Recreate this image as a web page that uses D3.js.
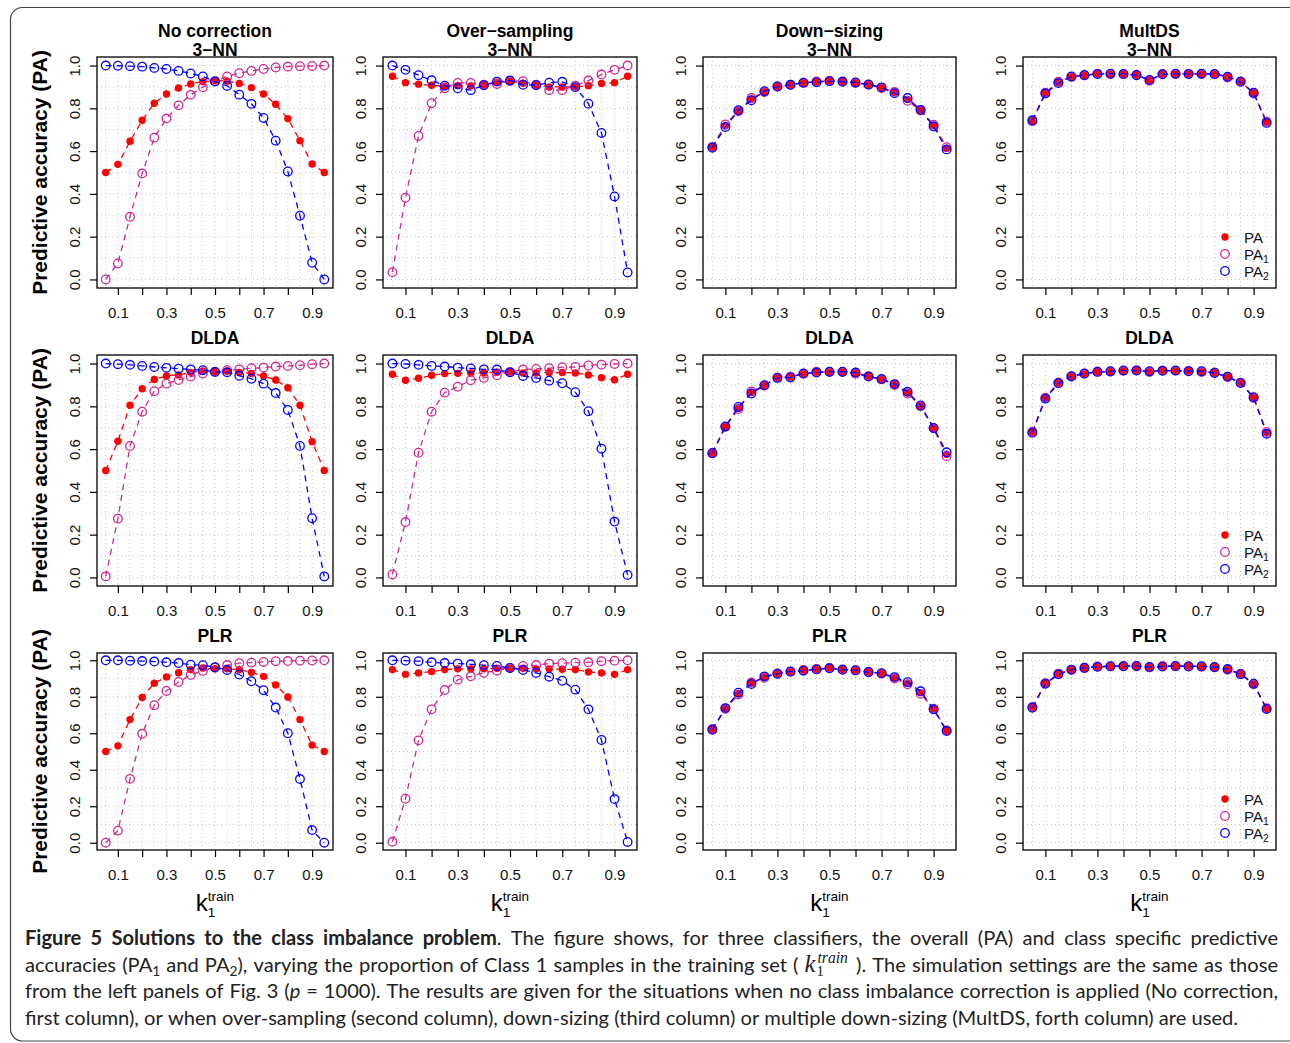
<!DOCTYPE html>
<html><head><meta charset="utf-8">
<script src="https://cdn.jsdelivr.net/npm/d3@7"></script>
<style>body{margin:0;background:#fff} svg{display:block}</style>
</head><body>
<svg id="c" width="1290" height="1043"></svg>
<script>
// ---------------- data ----------------
const kTrain = [0.05,0.10,0.15,0.20,0.25,0.30,0.35,0.40,0.45,0.50,0.55,0.60,0.65,0.70,0.75,0.80,0.85,0.90,0.95];
const columnTitles = ["No correction","Over\u2212sampling","Down\u2212sizing","MultDS"];
const rowTitles = ["3\u2212NN","DLDA","PLR"];
const xTickValues = [0.1,0.2,0.3,0.4,0.5,0.6,0.7,0.8,0.9];
const xTickLabels = ["0.1","","0.3","","0.5","","0.7","","0.9"];
const yTickValues = [0,0.2,0.4,0.6,0.8,1.0];
const yTickLabels = ["0.0","0.2","0.4","0.6","0.8","1.0"];
const yGridValues = [0,0.1,0.2,0.3,0.4,0.5,0.6,0.7,0.8,0.9,1.0];
const seriesNames = ["PA","PA1","PA2"];

// No correction / 3-NN
const ncKnnPA  = [0.500,0.538,0.646,0.744,0.824,0.867,0.895,0.914,0.925,0.930,0.927,0.916,0.897,0.867,0.819,0.752,0.649,0.540,0.500];
const ncKnnPA1 = [0.000,0.075,0.293,0.495,0.663,0.752,0.814,0.863,0.899,0.928,0.949,0.964,0.975,0.984,0.991,0.995,0.997,0.998,1.000];
const ncKnnPA2 = [1.000,0.999,0.997,0.995,0.989,0.984,0.975,0.963,0.949,0.925,0.905,0.864,0.821,0.755,0.649,0.505,0.298,0.078,0.000];
// Over-sampling / 3-NN
const osKnnPA  = [0.950,0.920,0.913,0.908,0.903,0.906,0.905,0.908,0.922,0.928,0.917,0.908,0.900,0.900,0.900,0.906,0.916,0.920,0.950];
const osKnnPA1 = [0.034,0.382,0.671,0.824,0.894,0.919,0.919,0.910,0.914,0.928,0.927,0.910,0.885,0.885,0.906,0.930,0.958,0.980,1.000];
const osKnnPA2 = [1.000,0.980,0.955,0.931,0.906,0.894,0.885,0.908,0.925,0.930,0.910,0.908,0.920,0.924,0.899,0.822,0.685,0.388,0.033];
// Down-sizing / 3-NN
const dsKnnPA  = [0.618,0.718,0.789,0.842,0.878,0.902,0.910,0.920,0.924,0.928,0.925,0.920,0.911,0.897,0.874,0.842,0.792,0.719,0.613];
const dsKnnPA1 = [0.620,0.725,0.786,0.848,0.876,0.902,0.910,0.919,0.926,0.929,0.926,0.919,0.910,0.895,0.877,0.835,0.790,0.723,0.618];
const dsKnnPA2 = [0.616,0.713,0.791,0.838,0.880,0.902,0.910,0.920,0.922,0.927,0.924,0.921,0.912,0.898,0.871,0.848,0.793,0.715,0.608];
// MultDS / 3-NN
const mdKnnPA  = [0.742,0.871,0.921,0.948,0.955,0.961,0.961,0.960,0.956,0.931,0.960,0.961,0.961,0.961,0.960,0.946,0.925,0.871,0.735];
const mdKnnPA1 = [0.740,0.873,0.924,0.947,0.954,0.962,0.960,0.959,0.957,0.929,0.961,0.960,0.962,0.960,0.959,0.944,0.926,0.869,0.738];
const mdKnnPA2 = [0.744,0.869,0.918,0.949,0.956,0.960,0.962,0.961,0.955,0.933,0.959,0.962,0.960,0.962,0.961,0.948,0.924,0.873,0.732];
// No correction / DLDA
const ncDldaPA  = [0.500,0.637,0.805,0.882,0.926,0.942,0.947,0.959,0.965,0.962,0.965,0.959,0.954,0.942,0.923,0.887,0.805,0.635,0.500];
const ncDldaPA1 = [0.005,0.275,0.615,0.775,0.871,0.906,0.923,0.939,0.953,0.962,0.969,0.973,0.978,0.981,0.986,0.989,0.992,0.997,1.000];
const ncDldaPA2 = [1.000,0.997,0.994,0.989,0.984,0.980,0.976,0.972,0.969,0.961,0.959,0.943,0.929,0.906,0.862,0.783,0.615,0.277,0.005];
// Over-sampling / DLDA
const osDldaPA  = [0.950,0.922,0.931,0.945,0.953,0.955,0.956,0.956,0.961,0.961,0.956,0.956,0.958,0.958,0.956,0.947,0.934,0.924,0.950];
const osDldaPA1 = [0.014,0.259,0.583,0.775,0.864,0.892,0.922,0.933,0.945,0.961,0.972,0.975,0.978,0.983,0.984,0.991,0.995,0.998,1.000];
const osDldaPA2 = [1.000,0.998,0.994,0.989,0.986,0.981,0.977,0.973,0.972,0.959,0.942,0.933,0.920,0.908,0.866,0.777,0.602,0.261,0.012];
// Down-sizing / DLDA
const dsDldaPA  = [0.581,0.705,0.792,0.865,0.898,0.934,0.937,0.953,0.960,0.961,0.961,0.955,0.940,0.927,0.902,0.864,0.802,0.698,0.576];
const dsDldaPA1 = [0.580,0.704,0.787,0.870,0.897,0.935,0.939,0.952,0.962,0.960,0.960,0.952,0.941,0.926,0.900,0.860,0.800,0.697,0.567];
const dsDldaPA2 = [0.582,0.706,0.797,0.860,0.899,0.933,0.935,0.954,0.958,0.962,0.962,0.958,0.939,0.928,0.904,0.868,0.804,0.699,0.585];
// MultDS / DLDA
const mdDldaPA  = [0.679,0.838,0.910,0.940,0.953,0.962,0.963,0.967,0.968,0.962,0.967,0.967,0.965,0.962,0.957,0.938,0.910,0.841,0.676];
const mdDldaPA1 = [0.681,0.840,0.912,0.939,0.952,0.963,0.962,0.966,0.969,0.960,0.968,0.966,0.966,0.960,0.958,0.937,0.911,0.839,0.680];
const mdDldaPA2 = [0.677,0.836,0.908,0.941,0.954,0.961,0.964,0.968,0.967,0.964,0.966,0.968,0.964,0.964,0.956,0.939,0.909,0.843,0.672];
// No correction / PLR
const ncPlrPA  = [0.500,0.531,0.675,0.796,0.874,0.909,0.932,0.949,0.958,0.954,0.954,0.949,0.934,0.912,0.865,0.799,0.675,0.535,0.500];
const ncPlrPA1 = [0.000,0.066,0.350,0.597,0.754,0.832,0.881,0.920,0.942,0.960,0.974,0.984,0.987,0.991,0.995,0.996,0.998,0.999,1.000];
const ncPlrPA2 = [1.000,1.000,0.998,0.996,0.993,0.989,0.985,0.976,0.973,0.962,0.947,0.922,0.885,0.836,0.741,0.600,0.349,0.069,0.000];
// Over-sampling / PLR
const osPlrPA  = [0.949,0.923,0.931,0.938,0.949,0.953,0.953,0.953,0.956,0.956,0.956,0.953,0.953,0.951,0.949,0.936,0.931,0.923,0.949];
const osPlrPA1 = [0.005,0.241,0.561,0.731,0.837,0.894,0.912,0.932,0.943,0.958,0.969,0.974,0.982,0.984,0.987,0.989,0.995,0.998,1.000];
const osPlrPA2 = [1.000,0.998,0.995,0.989,0.985,0.982,0.978,0.973,0.969,0.958,0.947,0.931,0.910,0.888,0.839,0.731,0.563,0.239,0.004];
// Down-sizing / PLR
const dsPlrPA  = [0.621,0.736,0.817,0.874,0.908,0.927,0.938,0.945,0.951,0.957,0.949,0.945,0.936,0.928,0.904,0.874,0.823,0.733,0.614];
const dsPlrPA1 = [0.623,0.734,0.812,0.878,0.904,0.928,0.937,0.947,0.952,0.958,0.950,0.944,0.937,0.927,0.900,0.868,0.816,0.735,0.616];
const dsPlrPA2 = [0.619,0.738,0.822,0.870,0.912,0.926,0.939,0.943,0.950,0.956,0.948,0.946,0.935,0.929,0.908,0.880,0.830,0.731,0.612];
// MultDS / PLR
const mdPlrPA  = [0.742,0.873,0.925,0.948,0.958,0.965,0.967,0.968,0.968,0.962,0.967,0.968,0.967,0.966,0.962,0.950,0.925,0.870,0.735];
const mdPlrPA1 = [0.744,0.875,0.927,0.947,0.957,0.966,0.966,0.969,0.967,0.961,0.968,0.967,0.968,0.965,0.961,0.948,0.926,0.868,0.737];
const mdPlrPA2 = [0.740,0.871,0.923,0.949,0.959,0.964,0.968,0.967,0.969,0.963,0.966,0.969,0.966,0.967,0.963,0.952,0.924,0.872,0.733];

const panelData = [
  [[ncKnnPA,ncKnnPA1,ncKnnPA2],[osKnnPA,osKnnPA1,osKnnPA2],[dsKnnPA,dsKnnPA1,dsKnnPA2],[mdKnnPA,mdKnnPA1,mdKnnPA2]],
  [[ncDldaPA,ncDldaPA1,ncDldaPA2],[osDldaPA,osDldaPA1,osDldaPA2],[dsDldaPA,dsDldaPA1,dsDldaPA2],[mdDldaPA,mdDldaPA1,mdDldaPA2]],
  [[ncPlrPA,ncPlrPA1,ncPlrPA2],[osPlrPA,osPlrPA1,osPlrPA2],[dsPlrPA,dsPlrPA1,dsPlrPA2],[mdPlrPA,mdPlrPA1,mdPlrPA2]]
];

// ---------------- layout & style ----------------
const colBoxes = [[97,333],[383,637],[703,956],[1023,1276]];
const rowBoxes = [[57,288],[355,586],[653,850]];
const seriesColors = ["#ff0000","#cd2990","#0000ff"];
const SANS = "'Liberation Sans', Arial, sans-serif";

const svg = d3.select("#c");
svg.append("rect").attr("width",1290).attr("height",1043).attr("fill","#fff");
svg.append("path")
  .attr("d","M1300,7.5 H22 A12,12 0 0 0 10.5,19.5 V1029 A12,12 0 0 0 22.5,1041 H1300")
  .attr("fill","none").attr("stroke","#444").attr("stroke-width",1.2);

panelData.forEach((rowArr, r) => {
  rowArr.forEach((series, c) => {
    const [x0,x1] = colBoxes[c], [y0,y1] = rowBoxes[r];
    const x = d3.scaleLinear().domain([0.014,0.986]).range([x0,x1]);
    const y = d3.scaleLinear().domain([-0.04,1.04]).range([y1,y0]);
    const g = svg.append("g");

    // grid
    g.selectAll(".vg").data(kTrain).join("line")
      .attr("x1",d=>x(d)).attr("x2",d=>x(d)).attr("y1",y0).attr("y2",y1)
      .attr("stroke","#c4c4c4").attr("stroke-width",1).attr("stroke-dasharray","1,3");
    g.selectAll(".hg").data(yGridValues).join("line")
      .attr("x1",x0).attr("x2",x1).attr("y1",d=>y(d)).attr("y2",d=>y(d))
      .attr("stroke","#c4c4c4").attr("stroke-width",1).attr("stroke-dasharray","1,3");

    // series
    const line = d3.line().x(d=>x(d[0])).y(d=>y(d[1]));
    series.forEach((vals, s) => {
      const pts = kTrain.map((k,i)=>[k, vals[i]]);
      g.append("path").attr("d", line(pts)).attr("fill","none")
        .attr("stroke", seriesColors[s]).attr("stroke-width",1.3).attr("stroke-dasharray","6,5");
      g.selectAll(null).data(pts).join("circle")
        .attr("cx",d=>x(d[0])).attr("cy",d=>y(d[1]))
        .attr("r", s===0 ? 3.7 : 4.3)
        .attr("fill", s===0 ? seriesColors[0] : "none")
        .attr("stroke", s===0 ? "none" : seriesColors[s])
        .attr("stroke-width", 1.3);
    });

    // box
    g.append("rect").attr("x",x0).attr("y",y0).attr("width",x1-x0).attr("height",y1-y0)
      .attr("fill","none").attr("stroke","#000").attr("stroke-width",1.3);

    // axes
    g.append("g").attr("transform",`translate(0,${y1})`)
      .call(d3.axisBottom(x).tickValues(xTickValues).tickSize(7).tickFormat((d,i)=>xTickLabels[i]))
      .attr("font-family",SANS).attr("font-size",15)
      .call(a=>{a.select(".domain").remove(); a.selectAll("line").attr("stroke-width",1.2);
        a.selectAll("text").attr("y",30).attr("dy",null).attr("fill","#111");});
    g.append("g").attr("transform",`translate(${x0},0)`)
      .call(d3.axisLeft(y).tickValues(yTickValues).tickSize(7).tickFormat((d,i)=>yTickLabels[i]))
      .attr("font-family",SANS).attr("font-size",15)
      .call(a=>{a.select(".domain").remove(); a.selectAll("line").attr("stroke-width",1.2);
        a.selectAll("text").attr("x",null).attr("dy",null).attr("text-anchor","middle")
          .attr("transform","translate(-17,0) rotate(-90)").attr("fill","#111");});

    // titles
    const cx = (x0+x1)/2;
    if (r === 0) {
      g.append("text").attr("x",cx).attr("y",37).attr("text-anchor","middle")
        .attr("font-family",SANS).attr("font-weight","bold").attr("font-size",17.5).text(columnTitles[c]);
      g.append("text").attr("x",cx).attr("y",56).attr("text-anchor","middle")
        .attr("font-family",SANS).attr("font-weight","bold").attr("font-size",17.5).text(rowTitles[r]);
    } else {
      g.append("text").attr("x",cx).attr("y",y0-11).attr("text-anchor","middle")
        .attr("font-family",SANS).attr("font-weight","bold").attr("font-size",17.5).text(rowTitles[r]);
    }

    // y label
    if (c === 0) {
      g.append("text").attr("transform",`translate(47,${(y0+y1)/2}) rotate(-90)`)
        .attr("text-anchor","middle").attr("font-family",SANS).attr("font-weight","bold")
        .attr("font-size",21).text("Predictive accuracy (PA)");
    }
    // x label
    if (r === 2) {
      const xl = g.append("g").attr("font-family",SANS);
      const kt = xl.append("text").attr("x",0).attr("y",0).attr("font-size",24).text("k");
      const kw = kt.node().getComputedTextLength();
      const tr = xl.append("text").attr("x",kw).attr("y",-10).attr("font-size",13.5).text("train");
      xl.append("text").attr("x",kw).attr("y",6).attr("font-size",13.5).text("1");
      const tw = kw + tr.node().getComputedTextLength();
      xl.attr("transform",`translate(${cx - tw/2},911)`);
    }

    // legend
    if (c === 3) {
      const lg = g.append("g");
      seriesNames.forEach((nm, s) => {
        const ly = y1 - 51 + s*17;
        lg.append("circle").attr("cx",x1-51).attr("cy",ly)
          .attr("r", s===0 ? 3.7 : 4.3)
          .attr("fill", s===0 ? seriesColors[0] : "none")
          .attr("stroke", s===0 ? "none" : seriesColors[s]).attr("stroke-width",1.3);
        const t = lg.append("text").attr("x",x1-32).attr("y",ly+5.5)
          .attr("font-family",SANS).attr("font-size",15).attr("fill","#111");
        t.append("tspan").text("PA");
        if (s>0) t.append("tspan").attr("font-size",10.5).attr("dy",3).text(String(s));
      });
    }
  });
});

// ---------------- caption ----------------
const captionLines = [
  [{t:"Figure 5 Solutions to the class imbalance problem", b:1},{t:". The figure shows, for three classifiers, the overall (PA) and class specific predictive"}],
  [{t:"accuracies (PA"},{t:"1",sub:1},{t:" and PA"},{t:"2",sub:1},{t:"), varying the proportion of Class 1 samples in the training set ( "},{kterm:1},{t:" ). The simulation settings are the same as those"}],
  [{t:"from the left panels of Fig. 3 ("},{t:"p",i:1},{t:" = 1000). The results are given for the situations when no class imbalance correction is applied (No correction,"}],
  [{t:"first column), or when over-sampling (second column), down-sizing (third column) or multiple down-sizing (MultDS, forth column) are used."}]
];
const capBaselines = [945, 972, 998, 1025];
const capRight = [1278, 1278, 1278, 1238];
const capLeft = 25;
const CAPFONT = "Lato, 'Open Sans', sans-serif";
const SERIF = "'Liberation Serif', serif";

function layoutCaption(size, place) {
  const root = svg.append("g").attr("font-family",CAPFONT).attr("font-size",size).attr("fill","#222");
  const sp1 = root.append("text").text("n n"), sp2 = root.append("text").text("nn");
  const spaceW = sp1.node().getComputedTextLength() - sp2.node().getComputedTextLength();
  sp1.remove(); sp2.remove();
  const naturals = [];
  captionLines.forEach((runs, li) => {
    const tokens = []; let cur = [];
    runs.forEach(run => {
      if (run.kterm) { cur.push(run); return; }
      const parts = run.t.split(" ");
      parts.forEach((p, pi) => {
        if (pi > 0) { tokens.push(cur); cur = []; }
        if (p.length) cur.push(Object.assign({}, run, {t:p}));
      });
    });
    tokens.push(cur);
    const toks = tokens.filter(t => t.length);
    const lineG = root.append("g");
    const widths = [], groups = [];
    toks.forEach(tok => {
      const tg = lineG.append("g"); let cx = 0;
      tok.forEach(run => {
        if (run.kterm) {
          // measure parts, then draw k with stacked sub/superscript as one text
          const m1 = tg.append("text").attr("font-family",SERIF).attr("font-style","italic").attr("font-size",size*1.22).text("k");
          const kw = m1.node().getComputedTextLength(); m1.remove();
          const m2 = tg.append("text").attr("font-family",SERIF).attr("font-style","italic").attr("font-size",size*0.78).text("train");
          const tw = m2.node().getComputedTextLength(); m2.remove();
          const kt = tg.append("text").attr("font-family",SERIF);
          kt.append("tspan").attr("x",cx).attr("y",0).attr("font-style","italic").attr("font-size",size*1.22).text("k");
          kt.append("tspan").attr("x",cx+kw+1).attr("y",size*0.2).attr("font-size",size*0.74).text("1");
          kt.append("tspan").attr("x",cx+kw+2).attr("y",-size*0.44).attr("font-style","italic").attr("font-size",size*0.78).text("train");
          cx += kw + 4 + tw;
        } else {
          const t = tg.append("text").attr("x",cx).attr("y", run.sub ? size*0.22 : 0).text(run.t);
          if (run.b) t.attr("font-weight","bold");
          if (run.i) t.attr("font-style","italic");
          if (run.sub) t.attr("font-size",size*0.68);
          cx += t.node().getComputedTextLength();
        }
      });
      widths.push(cx); groups.push(tg);
    });
    const total = d3.sum(widths);
    naturals.push(total + spaceW*(toks.length-1));
    const gap = (capRight[li] - capLeft - total) / (toks.length - 1);
    let xx = capLeft;
    groups.forEach((tg, i) => { tg.attr("transform",`translate(${xx},${capBaselines[li]})`); xx += widths[i] + gap; });
  });
  if (!place) root.remove();
  return naturals;
}
const baseSize = 18.5;
const nat = layoutCaption(baseSize, false);
// size the font so the un-justified last line spans its reference width
const capSize = baseSize * (capRight[3]-capLeft) / nat[3];
layoutCaption(capSize, true);
</script>
</body></html>
